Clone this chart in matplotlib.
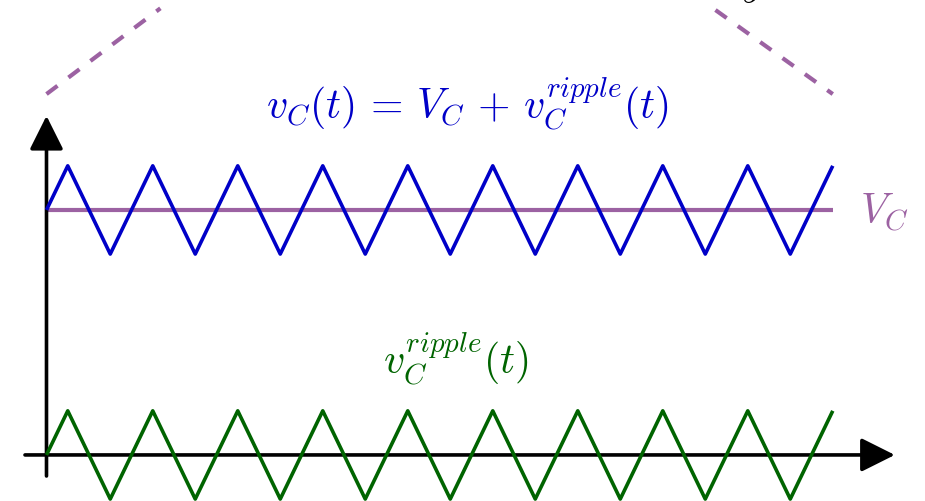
import matplotlib
matplotlib.use("Agg")
import matplotlib.pyplot as plt

plt.rcParams["mathtext.fontset"] = "cm"

# periodos (T = 1) e tensões (V_C = 1)
t_knots = [0, 0.25, 0.75, 1.25, 1.75, 2.25, 2.75, 3.25, 3.75, 4.25,
           4.75, 5.25, 5.75, 6.25, 6.75, 7.25, 7.75, 8.25, 8.75, 9.25]
ripple = [0, 0.18, -0.18, 0.18, -0.18, 0.18, -0.18, 0.18, -0.18, 0.18,
          -0.18, 0.18, -0.18, 0.18, -0.18, 0.18, -0.18, 0.18, -0.18, 0.18]
V_C = 1.0
t_end = 9.25

# linhas tracejadas (zoom) que sobem até o topo
zoom_left_t = [0, 1.34]
zoom_left_v = [1.473, 1.823]
zoom_right_t = [7.87, 9.25]
zoom_right_v = [1.816, 1.473]

blue = "#0000c8"
green = "#006400"
purple = "#9c62a2"

fig = plt.figure(figsize=(9.25, 5.02), dpi=100)
ax = fig.add_axes([0, 0, 1, 1])
ax.set_xlim(-0.547, 10.335)
ax.set_ylim(-0.188, 1.861)
ax.axis("off")

v_total = [V_C + r for r in ripple]

# eixos com setas
arrow = dict(arrowstyle="-|>", lw=2.6, color="black", mutation_scale=52,
             shrinkA=0, shrinkB=0)
ax.annotate("", xy=(0, 1.384), xytext=(0, -0.086), arrowprops=arrow)
ax.annotate("", xy=(9.98, 0), xytext=(-0.253, 0), arrowprops=arrow)

ax.plot([0, t_end], [V_C, V_C], color=purple, lw=3.0, solid_capstyle="butt")
ax.plot(t_knots, v_total, color=blue, lw=2.6, solid_capstyle="butt", zorder=3)
ax.plot(t_knots, ripple, color=green, lw=2.6, solid_capstyle="butt", zorder=3)

ax.plot(zoom_left_t, zoom_left_v, color=purple, lw=3.0, ls=(0, (3.3, 3.3)))
ax.plot(zoom_right_t, zoom_right_v, color=purple, lw=3.0, ls=(0, (3.3, 3.3)))

ax.text(4.95, 1.371, r"$v_C(t)\,=\,V_C\,+\,v_C^{ripple}(t)$", color=blue,
        fontsize=30, ha="center", va="baseline")
ax.text(4.82, 0.331, r"$v_C^{ripple}(t)$", color=green,
        fontsize=30, ha="center", va="baseline")
ax.text(9.57, 0.943, r"$V_C$", color=purple, fontsize=30,
        ha="left", va="baseline")
ax.text(8.30, 1.882, r"$y$", color="black", fontsize=30,
        ha="center", va="baseline", clip_on=False)

fig.savefig("out.png", dpi=100)
